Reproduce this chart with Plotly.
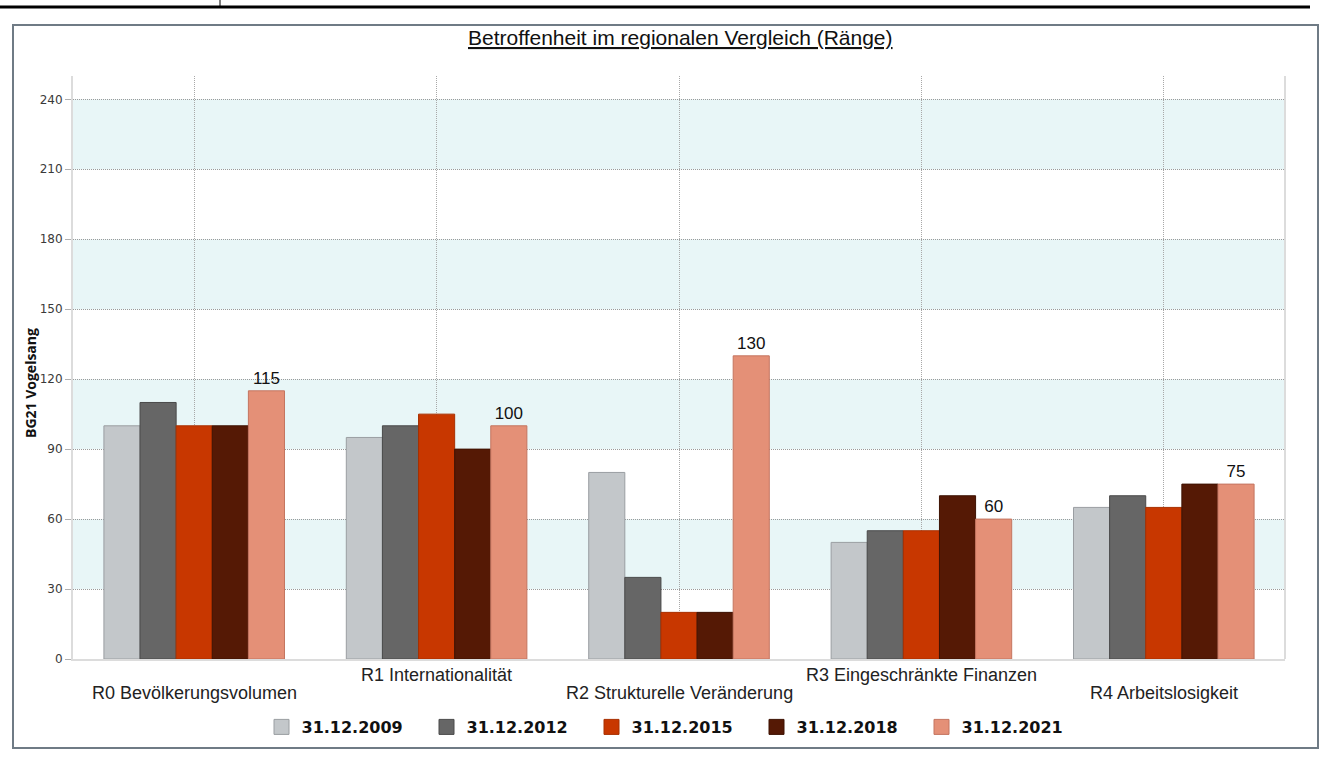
import plotly.graph_objects as go

categories = ["R0 Bevölkerungsvolumen", "R1 Internationalität", "R2 Strukturelle Veränderung",
              "R3 Eingeschränkte Finanzen", "R4 Arbeitslosigkeit"]
series_names = ["31.12.2009", "31.12.2012", "31.12.2015", "31.12.2018", "31.12.2021"]
values_2009 = [100, 95, 80, 50, 65]
values_2012 = [110, 100, 35, 55, 70]
values_2015 = [100, 105, 20, 55, 65]
values_2018 = [100, 90, 20, 70, 75]
values_2021 = [115, 100, 130, 60, 75]
y_ticks = [0, 30, 60, 90, 120, 150, 180, 210, 240]

all_values = [values_2009, values_2012, values_2015, values_2018, values_2021]
fills = ["#c3c7ca", "#666666", "#c83700", "#551905", "#e49077"]
outlines = ["#9a9ea2", "#4a4a4a", "#a83000", "#3e1203", "#c47560"]

# plot area in pixels
L, R, T, B = 73, 1285, 76, 659
PW, PH = R - L, B - T


def px(x):
    return (x - L) / PW


def py(y):
    return (B - y) / PH


fig = go.Figure()
for i, (name, vals) in enumerate(zip(series_names, all_values)):
    kw = {}
    if i == len(series_names) - 1:
        kw = dict(text=vals, texttemplate="%{text}", textposition="outside",
                  textfont=dict(family="Liberation Sans, Arial", size=17, color="#111111"),
                  cliponaxis=False)
    fig.add_trace(go.Bar(x=categories, y=vals, name=name, showlegend=False,
                         marker=dict(color=fills[i], line=dict(color=outlines[i], width=1)),
                         **kw))
# legend entries with larger square symbols
for i, name in enumerate(series_names):
    fig.add_trace(go.Scatter(x=[None], y=[None], mode="markers", name=name,
                             marker=dict(symbol="square", size=15, color=fills[i],
                                         line=dict(color=outlines[i], width=1))))

shapes = []
for lo in [30, 90, 150, 210]:
    shapes.append(dict(type="rect", xref="paper", yref="y", x0=0, x1=1, y0=lo, y1=lo + 30,
                       fillcolor="#e8f6f7", line=dict(width=0), layer="below"))
shapes.append(dict(type="line", xref="paper", yref="paper", x0=1, x1=1, y0=0, y1=1,
                   line=dict(color="#dcdcdc", width=2), layer="below"))
shapes.append(dict(type="rect", xref="paper", yref="paper",
                   x0=px(13), x1=px(1318), y0=py(748), y1=py(25),
                   line=dict(color="#6f7b85", width=2), fillcolor="rgba(0,0,0,0)"))
shapes.append(dict(type="line", xref="paper", yref="paper",
                   x0=px(0), x1=px(1310), y0=py(7), y1=py(7),
                   line=dict(color="#000000", width=3)))
shapes.append(dict(type="line", xref="paper", yref="paper",
                   x0=px(220), x1=px(220), y0=py(7), y1=py(0),
                   line=dict(color="#000000", width=1)))

annotations = []
for i, c in enumerate(categories):
    lower = (i % 2 == 0)
    annotations.append(dict(x=c, xref="x", yref="paper", y=py(693 if lower else 675),
                            text=c, showarrow=False, yanchor="middle",
                            font=dict(family="Liberation Sans, Arial", size=18, color="#222222")))
annotations.append(dict(x=px(30), y=py(383), xref="paper", yref="paper",
                        text="<b>BG21 Vogelsang</b>", textangle=-90, showarrow=False,
                        xanchor="center", yanchor="middle",
                        font=dict(family="Open Sans, Calibri", size=14, color="#111111")))
annotations.append(dict(x=px(680), y=py(37), xref="paper", yref="paper",
                        text="<u>Betroffenheit im regionalen Vergleich (Ränge)</u>",
                        showarrow=False, xanchor="center", yanchor="middle",
                        font=dict(family="Liberation Sans, Arial", size=21, color="#111111")))

fig.update_layout(
    width=1321, height=758,
    margin=dict(l=L, r=1321 - R, t=T, b=758 - B),
    paper_bgcolor="white", plot_bgcolor="white",
    barmode="group", bargap=0.255, bargroupgap=0,
    xaxis=dict(showticklabels=False, showgrid=True, gridcolor="#a8a8a8", griddash="1px,1px",
               gridwidth=1, showline=True, linecolor="#dcdcdc", linewidth=2, ticks="",
               zeroline=False),
    yaxis=dict(range=[0, 250], tickvals=y_ticks, showgrid=True, gridcolor="#9a9a9a",
               griddash="1px,1px", gridwidth=1, showline=True, linecolor="#dcdcdc", linewidth=2,
               ticks="outside", ticklen=6, tickcolor="#b0b0b0",
               tickfont=dict(family="DejaVu Sans, Verdana", size=12, color="#3a3a3a"),
               zeroline=False),
    legend=dict(orientation="h", x=px(674), xanchor="center", y=py(727),
                yanchor="middle", entrywidth=120, entrywidthmode="pixels",
                font=dict(family="DejaVu Sans, Verdana", size=16, color="#111111", weight="bold"),
                itemsizing="trace", bgcolor="rgba(0,0,0,0)"),
    shapes=shapes, annotations=annotations,
)

fig.write_html("out.html", config={"displayModeBar": False},
               post_script="document.body.style.margin='0';")
